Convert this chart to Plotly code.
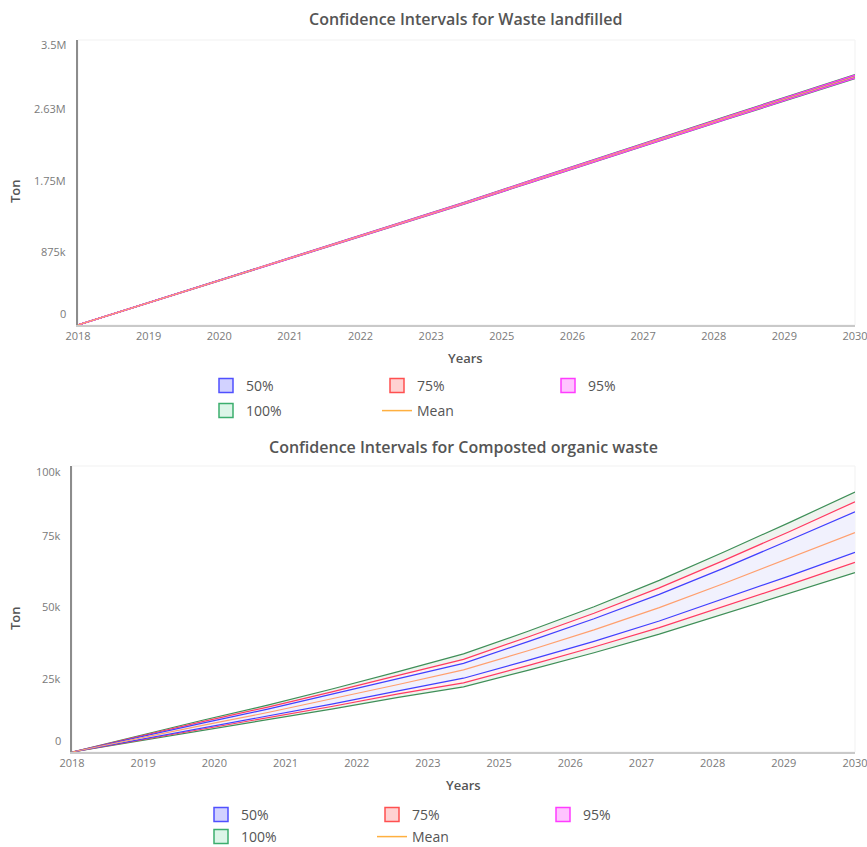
import numpy as np
import plotly.graph_objects as go

W, H = 867, 847

# ---------------------------------------------------------------- data
years = list(range(2018, 2031))
year_tick_text = ["2018", "2019", "2020", "2021", "2022", "2023",
                  "2025", "2026", "2027", "2028", "2029", "2030"]

# Waste landfilled, thousand tonnes
landfill_mean = [0, 250, 500, 750, 1000, 1250, 1505, 1765, 2025, 2280, 2540, 2795, 3050]
landfill_p50_lo = [0, 249.5, 499, 748.5, 998, 1247.5, 1502, 1761.5, 2021, 2275.5, 2535, 2789.5, 3044]
landfill_p50_hi = [0, 250.5, 501, 751.5, 1002, 1252.5, 1508, 1768.5, 2029, 2284.5, 2545, 2800.5, 3056]
landfill_p75_lo = [0, 249, 498, 747, 996, 1245, 1499, 1758, 2017, 2271, 2530, 2784, 3038]
landfill_p75_hi = [0, 251, 502, 753, 1004, 1255, 1511, 1772, 2033, 2289, 2550, 2806, 3062]
landfill_p95_lo = [0, 248.5, 497, 745.5, 994, 1242.5, 1496, 1754.5, 2013, 2266.5, 2525, 2778, 3032]
landfill_p95_hi = [0, 251.5, 503, 754.5, 1006, 1257.5, 1514, 1775.5, 2037, 2293.5, 2555, 2812, 3068]
landfill_p100_lo = [0, 248, 496, 744, 992, 1240, 1493, 1751, 2009, 2262, 2520, 2773, 3026]
landfill_p100_hi = [0, 252, 504, 756, 1008, 1260, 1517, 1779, 2041, 2298, 2560, 2817, 3074]
landfill_ticks = [0, 875, 1750, 2625, 3500]
landfill_tick_text = ["0", "875k", "1.75M", "2.63M", "3.5M"]

# Composted organic waste, thousand tonnes (no 95% band in this run)
compost_mean = [0, 4.7, 9.3, 13.8, 18.6, 23.6, 28.7, 35.5, 42.7, 50.5, 59.0, 67.8, 76.7]
compost_p50_lo = [0, 4.25, 8.4, 12.5, 16.8, 21.4, 25.8, 32.1, 38.7, 45.8, 53.6, 61.6, 69.8]
compost_p50_hi = [0, 5.12, 10.1, 15.0, 20.3, 25.7, 31.0, 38.7, 46.6, 55.1, 64.4, 74.1, 84.0]
compost_p75_lo = [0, 4.04, 8.0, 11.9, 16.0, 20.3, 24.2, 30.3, 36.7, 43.5, 50.9, 58.5, 66.3]
compost_p75_hi = [0, 5.33, 10.6, 15.7, 21.1, 26.8, 32.4, 40.3, 48.5, 57.4, 67.1, 77.1, 87.5]
compost_p95_lo = None
compost_p95_hi = None
compost_p100_lo = [0, 3.8, 7.5, 11.2, 15.1, 19.1, 22.8, 28.6, 34.7, 41.2, 48.3, 55.5, 62.7]
compost_p100_hi = [0, 5.6, 11.1, 16.4, 22.1, 28.1, 34.3, 42.3, 50.8, 60.0, 70.0, 80.3, 90.9]
compost_ticks = [0, 25, 50, 75, 100]
compost_tick_text = ["0", "25k", "50k", "75k", "100k"]

# ---------------------------------------------------------------- style
FONT = "Open Sans"
TEXT = "#555555"
TICK = "#7a7a7a"

BANDS = {  # name: (line colour, fill colour, legend fill, legend border)
    "100%": ("#3f8f58", "#eff4ef", "#dcf5e8", "#3cae6e"),
    "95%": ("#ff3cff", "#fdf0fd", "#ffc4ff", "#ff3cff"),
    "75%": ("#ff3a62", "#fff0f2", "#ffd2d2", "#ff5050"),
    "50%": ("#4040ff", "#f1f1fd", "#d2d2ff", "#5050ff"),
}
MEAN_LINE = "#ff9f6e"
MEAN_LEGEND = "#ffb040"


def px_x(px):
    return px / W


def px_y(py):
    return 1 - py / H


fig = go.Figure()


def add_chart(xa, ya, mean, bands):
    # filled bands, outermost first
    for name in ["100%", "95%", "75%", "50%"]:
        lo, hi = bands[name]
        if lo is None:
            continue
        fill = BANDS[name][1]
        fig.add_trace(go.Scatter(x=years, y=lo, mode="lines", line=dict(width=0),
                                 hoverinfo="skip", showlegend=False, xaxis=xa, yaxis=ya))
        fig.add_trace(go.Scatter(x=years, y=hi, mode="lines", line=dict(width=0),
                                 fill="tonexty", fillcolor=fill, hoverinfo="skip",
                                 showlegend=False, xaxis=xa, yaxis=ya))
    # band edges
    for name in ["100%", "75%", "50%", "95%"]:
        lo, hi = bands[name]
        if lo is None:
            continue
        colour = BANDS[name][0]
        for series in (lo, hi):
            fig.add_trace(go.Scatter(x=years, y=series, mode="lines",
                                     line=dict(color=colour, width=1.2),
                                     name=name, showlegend=False, xaxis=xa, yaxis=ya))
    fig.add_trace(go.Scatter(x=years, y=mean, mode="lines",
                             line=dict(color=MEAN_LINE, width=1.2),
                             name="Mean", showlegend=False, xaxis=xa, yaxis=ya))


add_chart("x", "y", landfill_mean, {
    "50%": (landfill_p50_lo, landfill_p50_hi),
    "75%": (landfill_p75_lo, landfill_p75_hi),
    "95%": (landfill_p95_lo, landfill_p95_hi),
    "100%": (landfill_p100_lo, landfill_p100_hi),
})
add_chart("x2", "y2", compost_mean, {
    "50%": (compost_p50_lo, compost_p50_hi),
    "75%": (compost_p75_lo, compost_p75_hi),
    "95%": (compost_p95_lo, compost_p95_hi),
    "100%": (compost_p100_lo, compost_p100_hi),
})


# legend entries: two rows under each chart
def legend_entry(name, legend_id):
    if name == "Mean":
        return go.Scatter(x=[None], y=[None], mode="lines", name=name,
                          line=dict(color=MEAN_LEGEND, width=1.5),
                          legend=legend_id, showlegend=True, hoverinfo="skip")
    _, _, lfill, lborder = BANDS[name]
    return go.Scatter(x=[None], y=[None], mode="markers", name=name,
                      marker=dict(symbol="square", size=14, color=lfill,
                                  line=dict(color=lborder, width=1.5)),
                      legend=legend_id, showlegend=True, hoverinfo="skip")


for lid, names in [("legend", ["50%", "75%", "95%"]), ("legend2", ["100%", "Mean"]),
                   ("legend3", ["50%", "75%", "95%"]), ("legend4", ["100%", "Mean"])]:
    for n in names:
        fig.add_trace(legend_entry(n, lid))


def legend_box(x_px, y_px):
    return dict(orientation="h", x=px_x(x_px), y=px_y(y_px), xanchor="left",
                yanchor="middle", entrywidth=126, entrywidthmode="pixels",
                bgcolor="rgba(0,0,0,0)", borderwidth=0, traceorder="normal",
                font=dict(family=FONT, size=14, color=TEXT), itemclick=False,
                itemdoubleclick=False)


def x_axis(left, right):
    return dict(domain=[px_x(left), px_x(right)], range=[2018, 2030],
                tickmode="array",
                tickvals=list(np.linspace(2018, 2030, len(year_tick_text))),
                ticktext=year_tick_text, ticks="", showgrid=False, zeroline=False,
                showline=True, linecolor="#c9c9c9", linewidth=2,
                ticklabeloverflow="allow",
                tickfont=dict(family=FONT, size=11, color=TICK),
                automargin=False, fixedrange=True)


def y_axis(top, bottom, ymax, anchor):
    return dict(domain=[px_y(bottom), px_y(top)], range=[0, ymax], anchor=anchor,
                showticklabels=False, ticks="", showgrid=False, zeroline=False,
                showline=True, linecolor="#8c8c8c", linewidth=1.5,
                automargin=False, fixedrange=True)


annotations = []


def text_note(txt, x_px, y_px, size, weight=600, color=TEXT, angle=0):
    annotations.append(dict(text=txt, x=px_x(x_px), y=px_y(y_px), xref="paper",
                            yref="paper", showarrow=False, textangle=angle,
                            xanchor="center", yanchor="middle",
                            font=dict(family=FONT, size=size, color=color,
                                      weight=weight)))


def y_tick_labels(values, labels, yref, right_px):
    last = len(values) - 1
    for i, (v, lab) in enumerate(zip(values, labels)):
        shift = 11.5 if i == 0 else (-5 if i == last else 2.5)
        annotations.append(dict(text=lab, x=px_x(right_px), y=v, xref="paper",
                                yref=yref, showarrow=False, xanchor="right",
                                yanchor="middle", yshift=shift,
                                font=dict(family=FONT, size=11, color=TICK)))


# top chart texts
text_note("Confidence Intervals for Waste landfilled", 466, 19, 16)
text_note("Years", 465, 358, 13)
text_note("Ton", 15, 191, 13, angle=-90)
y_tick_labels(landfill_ticks, landfill_tick_text, "y", 68)

# bottom chart texts
text_note("Confidence Intervals for Composted organic waste", 463, 447, 16)
text_note("Years", 464, 785, 13)
text_note("Ton", 15, 618, 13, angle=-90)
y_tick_labels(compost_ticks, compost_tick_text, "y2", 63)

shapes = [
    dict(type="rect", xref="x domain", yref="y domain", x0=0, x1=1, y0=0, y1=1,
         line=dict(color="#f1f1f1", width=1), layer="below"),
    dict(type="rect", xref="x2 domain", yref="y2 domain", x0=0, x1=1, y0=0, y1=1,
         line=dict(color="#f1f1f1", width=1), layer="below"),
]

fig.update_layout(
    width=W, height=H, template="none",
    margin=dict(l=0, r=0, t=0, b=0, autoexpand=False),
    paper_bgcolor="white", plot_bgcolor="white",
    font=dict(family=FONT, color=TEXT),
    xaxis=x_axis(78, 855) | dict(anchor="y"),
    yaxis=y_axis(40, 325, 3500, "x"),
    xaxis2=x_axis(72, 855) | dict(anchor="y2"),
    yaxis2=y_axis(466, 752, 100, "x2"),
    legend=legend_box(206, 386),
    legend2=legend_box(206, 411),
    legend3=legend_box(201, 815),
    legend4=legend_box(201, 837),
    annotations=annotations,
    shapes=shapes,
    hovermode=False,
)

fig.write_html("out.html", config={"displayModeBar": False})
